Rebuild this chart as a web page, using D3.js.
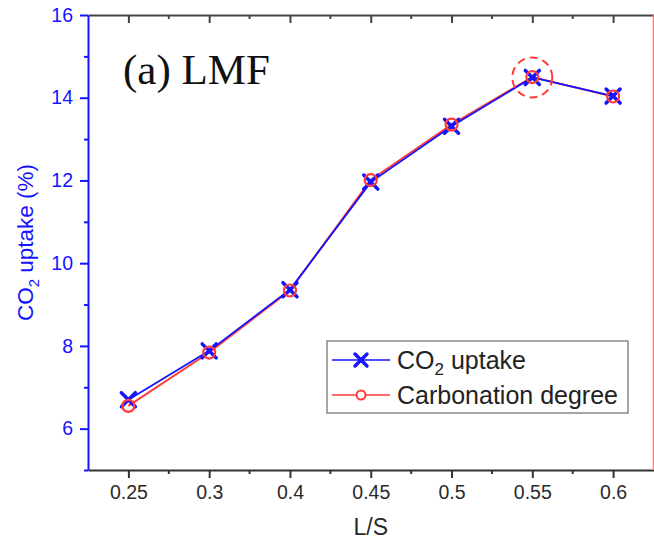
<!DOCTYPE html>
<html>
<head>
<meta charset="utf-8">
<script src="https://cdn.jsdelivr.net/npm/d3@7"></script>
<style>
  body { margin: 0; background: #fff; }
  svg { display: block; }
</style>
</head>
<body>
<svg id="chart"></svg>
<script>
// Data
const ratios = ["0.25", "0.3", "0.4", "0.45", "0.5", "0.55", "0.6"];
const co2Uptake = [6.70, 7.88, 9.36, 11.96, 13.31, 14.49, 14.04];
const carbonationDegree = [6.55, 7.84, 9.34, 12.01, 13.35, 14.50, 14.03];
const yMajorTicks = [6, 8, 10, 12, 14, 16];
const yMinorTicks = [5, 7, 9, 11, 13, 15];
const highlightIndex = 5;

const width = 654;
const height = 543;
const plotLeft = 88, plotRight = 653.5, plotTop = 15, plotBottom = 470;

const blue = "#1414ff";
const red = "#ff3b3b";

const svg = d3.select("#chart")
    .attr("width", width)
    .attr("height", height);

// Scales
const x = d3.scalePoint()
    .domain(ratios)
    .range([plotLeft, plotRight])
    .padding(0.5);

const y = d3.scaleLinear()
    .domain([5, 16])
    .range([plotBottom, plotTop]);

// minor x ticks sit halfway between categories
const xMinor = d3.range(ratios.length - 1).map(i => (x(ratios[i]) + x(ratios[i + 1])) / 2);

// Bottom axis
const xAxisG = svg.append("g")
    .attr("transform", `translate(0,${plotBottom})`)
    .call(d3.axisBottom(x).tickSize(8).tickPadding(7).tickSizeOuter(0));
xAxisG.select(".domain").attr("stroke", "#333").attr("stroke-width", 2);
xAxisG.selectAll(".tick line").attr("stroke", "#333").attr("stroke-width", 2);
xAxisG.selectAll(".tick text")
    .attr("fill", "#2a2a2a")
    .style("font-family", "Arial, 'Liberation Sans', sans-serif")
    .style("font-size", "19.5px");

svg.append("g")
    .selectAll("line")
    .data(xMinor)
    .join("line")
    .attr("x1", d => d).attr("x2", d => d)
    .attr("y1", plotBottom).attr("y2", plotBottom + 4)
    .attr("stroke", "#333").attr("stroke-width", 2);

// Top axis (ticks inward, no labels)
const topAxisG = svg.append("g")
    .attr("transform", `translate(0,${plotTop})`)
    .call(d3.axisBottom(x).tickSize(8).tickFormat("").tickSizeOuter(0));
topAxisG.select(".domain").attr("stroke", "#444").attr("stroke-width", 2);
topAxisG.selectAll(".tick line").attr("stroke", "#444").attr("stroke-width", 2);

svg.append("g")
    .selectAll("line")
    .data(xMinor)
    .join("line")
    .attr("x1", d => d).attr("x2", d => d)
    .attr("y1", plotTop).attr("y2", plotTop + 4)
    .attr("stroke", "#444").attr("stroke-width", 2);

// Right axis line (red, cut at the edge)
svg.append("line")
    .attr("x1", plotRight).attr("x2", plotRight)
    .attr("y1", plotTop).attr("y2", plotBottom)
    .attr("stroke", "#f08080").attr("stroke-width", 1.5);

// Left axis
const yAxisG = svg.append("g")
    .attr("transform", `translate(${plotLeft},0)`)
    .call(d3.axisLeft(y).tickValues(yMajorTicks).tickSize(8).tickPadding(7).tickSizeOuter(0));
yAxisG.select(".domain").attr("stroke", blue).attr("stroke-width", 2);
yAxisG.selectAll(".tick line").attr("stroke", blue).attr("stroke-width", 2);
yAxisG.selectAll(".tick text")
    .attr("fill", blue)
    .style("font-family", "Arial, 'Liberation Sans', sans-serif")
    .style("font-size", "19.5px");

const yMinorG = svg.append("g")
    .attr("transform", `translate(${plotLeft},0)`)
    .call(d3.axisLeft(y).tickValues(yMinorTicks).tickSize(4).tickFormat(""));
yMinorG.select(".domain").remove();
yMinorG.selectAll(".tick line").attr("stroke", blue).attr("stroke-width", 2);

// Axis titles
svg.append("text")
    .attr("x", (plotLeft + plotRight) / 2)
    .attr("y", 535)
    .attr("text-anchor", "middle")
    .attr("fill", "#2a2a2a")
    .style("font-family", "Arial, 'Liberation Sans', sans-serif")
    .style("font-size", "23px")
    .text("L/S");

const yTitle = svg.append("text")
    .attr("transform", `translate(33,${(plotTop + plotBottom) / 2}) rotate(-90)`)
    .attr("text-anchor", "middle")
    .attr("fill", blue)
    .style("font-family", "Arial, 'Liberation Sans', sans-serif")
    .style("font-size", "22.5px");
yTitle.append("tspan").text("CO");
yTitle.append("tspan").attr("dy", 6).style("font-size", "15px").text("2");
yTitle.append("tspan").attr("dy", -6).text(" uptake (%)");

// Panel label
svg.append("text")
    .attr("x", 123)
    .attr("y", 84)
    .attr("fill", "#111")
    .style("font-family", "'Liberation Serif', 'Times New Roman', serif")
    .style("font-size", "43px")
    .text("(a) LMF");

// Lines
const lineGen = d3.line()
    .x((d, i) => x(ratios[i]))
    .y(d => y(d));

svg.append("path")
    .datum(carbonationDegree)
    .attr("fill", "none")
    .attr("stroke", red)
    .attr("stroke-width", 2)
    .attr("d", lineGen);

svg.append("path")
    .datum(co2Uptake)
    .attr("fill", "none")
    .attr("stroke", blue)
    .attr("stroke-width", 1.8)
    .attr("d", lineGen);

// X markers for CO2 uptake
function xMark(s) {
    return `M${-s},${-s}L${s},${s}M${-s},${s}L${s},${-s}`;
}

svg.append("g")
    .selectAll("path")
    .data(co2Uptake)
    .join("path")
    .attr("transform", (d, i) => `translate(${x(ratios[i])},${y(d)})`)
    .attr("d", xMark(7))
    .attr("fill", "none")
    .attr("stroke", blue)
    .attr("stroke-width", 3.5)
    .attr("stroke-linecap", "round");

// Circle markers for carbonation degree
svg.append("g")
    .selectAll("circle")
    .data(carbonationDegree)
    .join("circle")
    .attr("cx", (d, i) => x(ratios[i]))
    .attr("cy", d => y(d))
    .attr("r", 6)
    .attr("fill", "none")
    .attr("stroke", red)
    .attr("stroke-width", 2.2);

// Dashed highlight around the peak
svg.append("circle")
    .attr("cx", x(ratios[highlightIndex]))
    .attr("cy", y(co2Uptake[highlightIndex]))
    .attr("r", 20)
    .attr("fill", "none")
    .attr("stroke", red)
    .attr("stroke-width", 2)
    .attr("stroke-dasharray", "8,5");

// Legend
const legend = svg.append("g");
legend.append("rect")
    .attr("x", 327).attr("y", 341)
    .attr("width", 301).attr("height", 72)
    .attr("fill", "#fff")
    .attr("stroke", "#888")
    .attr("stroke-width", 1.5);

const legendRows = [
    { y: 360, color: blue, marker: "x", label: "CO", sub: "2", rest: " uptake" },
    { y: 395, color: red, marker: "o", label: "Carbonation degree", sub: "", rest: "" }
];

legendRows.forEach(r => {
    legend.append("line")
        .attr("x1", 332).attr("x2", 390)
        .attr("y1", r.y).attr("y2", r.y)
        .attr("stroke", r.color)
        .attr("stroke-width", 1.5);
    if (r.marker === "x") {
        legend.append("path")
            .attr("transform", `translate(361,${r.y})`)
            .attr("d", xMark(6))
            .attr("stroke", r.color)
            .attr("stroke-width", 3.5)
            .attr("stroke-linecap", "round");
    } else {
        legend.append("circle")
            .attr("cx", 361).attr("cy", r.y).attr("r", 4.5)
            .attr("fill", "#fff")
            .attr("stroke", r.color)
            .attr("stroke-width", 2);
    }
    const t = legend.append("text")
        .attr("x", 397)
        .attr("y", r.y + 8.5)
        .attr("fill", "#222")
        .style("font-family", "Arial, 'Liberation Sans', sans-serif")
        .style("font-size", "25px");
    t.append("tspan").text(r.label);
    if (r.sub) {
        t.append("tspan").attr("dy", 6).style("font-size", "17px").text(r.sub);
        t.append("tspan").attr("dy", -6).text(r.rest);
    }
});
</script>
</body>
</html>
